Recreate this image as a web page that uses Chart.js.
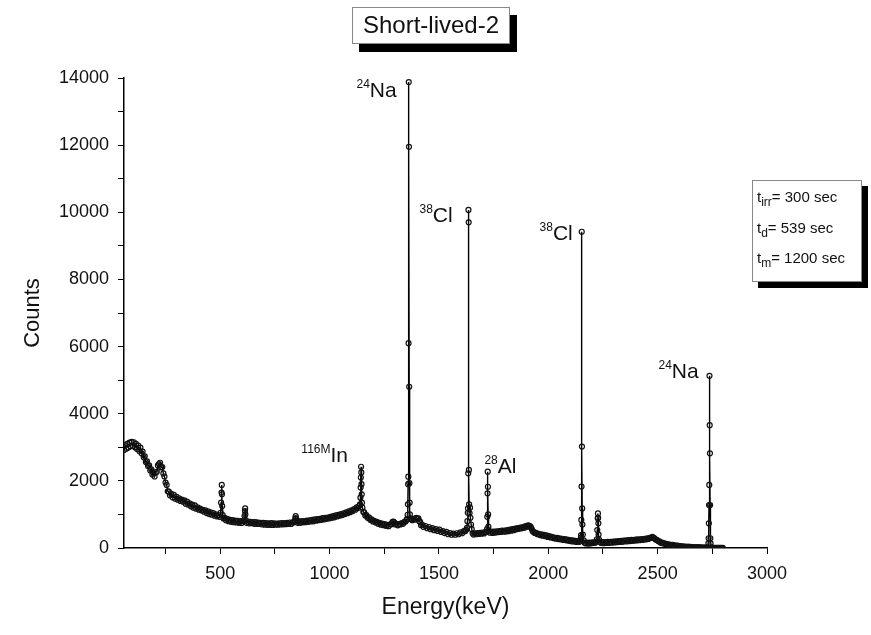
<!DOCTYPE html>
<html>
<head>
<meta charset="utf-8">
<script src="https://cdn.jsdelivr.net/npm/chart.js@4"></script>
<style>
  body { margin: 0; background: #fff; }
  #wrap { width: 871px; height: 635px; position: relative; }
</style>
</head>
<body>
<div id="wrap"><canvas id="spectrum"></canvas></div>
<script>
const chartTitle = 'Short-lived-2';

// gamma spectrum (keV, counts)
const energy = [
  60, 65, 70, 75, 80, 85, 90, 95, 100, 105, 110, 115, 120, 125, 130, 135, 140, 145, 150, 155,
  160, 165, 170, 175, 180, 185, 190, 195, 200, 205, 210, 215, 220, 225, 230, 235, 240, 245, 250, 255,
  260, 265, 270, 276, 282, 288, 294, 300, 306, 312, 318, 324, 330, 336, 342, 348, 354, 360, 366, 372,
  378, 384, 390, 396, 402, 408, 414, 420, 426, 432, 438, 444, 450, 456, 462, 468, 474, 480, 486, 492,
  498, 502, 504, 506, 507, 508, 509, 511, 515, 520, 526, 532, 538, 544, 550, 556, 562, 568, 574, 580,
  586, 592, 598, 604, 608, 611, 613, 614, 615, 617, 620, 626, 632, 638, 644, 650, 656, 662, 668, 674,
  680, 686, 692, 698, 704, 710, 716, 722, 728, 734, 740, 746, 752, 758, 764, 770, 776, 782, 788, 794,
  800, 806, 812, 818, 824, 830, 836, 840, 843, 845, 847, 850, 855, 860, 866, 872, 878, 884, 890, 896,
  902, 908, 914, 920, 926, 932, 938, 944, 950, 956, 962, 968, 974, 980, 986, 992, 998, 1004, 1010, 1016,
  1022, 1028, 1034, 1040, 1046, 1052, 1058, 1064, 1070, 1076, 1082, 1088, 1094, 1100, 1106, 1112, 1118, 1124, 1130, 1135,
  1139, 1141, 1142, 1143, 1144, 1145, 1146, 1147, 1148, 1150, 1154, 1158, 1163, 1168, 1174, 1180, 1186, 1192, 1198, 1204,
  1210, 1216, 1222, 1228, 1234, 1240, 1246, 1252, 1258, 1264, 1270, 1276, 1282, 1288, 1292, 1296, 1300, 1306, 1312, 1318,
  1324, 1330, 1336, 1342, 1348, 1352, 1355, 1357, 1358, 1359, 1360, 1361, 1362, 1363, 1364, 1365, 1366, 1367, 1369, 1373,
  1378, 1384, 1390, 1396, 1402, 1406, 1410, 1414, 1418, 1424, 1430, 1438, 1446, 1454, 1462, 1470, 1478, 1486, 1494, 1502,
  1510, 1518, 1526, 1534, 1542, 1550, 1558, 1566, 1574, 1582, 1590, 1598, 1606, 1614, 1620, 1625, 1628, 1630, 1632, 1633,
  1634, 1635, 1636, 1637, 1638, 1640, 1642, 1644, 1647, 1650, 1654, 1658, 1664, 1670, 1676, 1682, 1688, 1694, 1700, 1706,
  1712, 1717, 1720, 1721, 1722, 1723, 1724, 1725, 1726, 1728, 1733, 1740, 1746, 1752, 1758, 1764, 1770, 1776, 1782, 1788,
  1794, 1800, 1806, 1812, 1818, 1824, 1830, 1836, 1842, 1848, 1854, 1860, 1866, 1872, 1878, 1884, 1890, 1896, 1902, 1908,
  1912, 1916, 1920, 1924, 1928, 1932, 1938, 1944, 1950, 1956, 1962, 1968, 1974, 1980, 1986, 1992, 1998, 2004, 2010, 2016,
  2022, 2028, 2034, 2040, 2046, 2052, 2058, 2064, 2070, 2076, 2082, 2088, 2094, 2100, 2106, 2112, 2118, 2124, 2130, 2136,
  2142, 2146, 2149, 2150, 2151, 2152, 2153, 2154, 2155, 2156, 2158, 2162, 2166, 2172, 2178, 2184, 2190, 2196, 2202, 2208,
  2214, 2219, 2222, 2224, 2226, 2227, 2228, 2229, 2230, 2232, 2236, 2242, 2248, 2254, 2260, 2266, 2272, 2278, 2284, 2290,
  2296, 2302, 2308, 2314, 2320, 2326, 2332, 2338, 2344, 2350, 2356, 2362, 2368, 2374, 2380, 2386, 2392, 2398, 2404, 2410,
  2416, 2422, 2428, 2434, 2440, 2446, 2452, 2458, 2464, 2470, 2476, 2480, 2484, 2490, 2496, 2502, 2508, 2514, 2520, 2526,
  2532, 2538, 2544, 2550, 2556, 2562, 2568, 2574, 2580, 2586, 2592, 2598, 2604, 2610, 2616, 2622, 2628, 2634, 2640, 2646,
  2652, 2658, 2664, 2670, 2676, 2682, 2688, 2694, 2700, 2706, 2712, 2718, 2724, 2730, 2732, 2733, 2734, 2735, 2736, 2737,
  2738, 2739, 2740, 2741, 2742, 2744, 2750, 2756, 2762, 2768, 2774, 2780, 2786, 2792, 2798
];
const counts = [
  2920, 3060, 2960, 3100, 2990, 3140, 3030, 3160, 3040, 3150, 3000, 3100, 2950, 3050, 2890, 2990, 2820, 2870, 2700, 2730,
  2560, 2580, 2440, 2460, 2310, 2340, 2190, 2230, 2130, 2260, 2270, 2460, 2500, 2540, 2400, 2410, 2220, 2130, 1950, 1880,
  1690, 1680, 1570, 1610, 1510, 1580, 1470, 1520, 1440, 1480, 1400, 1440, 1380, 1420, 1320, 1380, 1290, 1330, 1240, 1290,
  1200, 1270, 1170, 1210, 1140, 1170, 1120, 1140, 1080, 1120, 1040, 1090, 1010, 1060, 990, 1040, 960, 1000, 940, 980,
  930, 1050, 1350, 1650, 1880, 1600, 1250, 980, 880, 900, 830, 870, 800, 840, 780, 830, 770, 815, 760, 810,
  750, 800, 745, 800, 800, 950, 1100, 1180, 1000, 820, 750, 790, 735, 780, 740, 770, 720, 770, 715, 755,
  720, 750, 700, 750, 695, 740, 690, 735, 690, 740, 685, 735, 695, 725, 695, 735, 700, 740, 705, 745,
  710, 750, 715, 760, 715, 765, 760, 800, 880, 950, 880, 800, 750, 795, 750, 800, 765, 805, 770, 815,
  780, 820, 790, 840, 795, 850, 815, 860, 830, 870, 840, 890, 850, 900, 870, 905, 880, 930, 900, 950,
  915, 970, 940, 985, 960, 1010, 980, 1035, 1010, 1060, 1035, 1090, 1065, 1120, 1100, 1160, 1140, 1210, 1190, 1250,
  1300, 1500, 1800, 2100, 2420, 2250, 1900, 1600, 1350, 1200, 1080, 1060, 970, 980, 900, 910, 840, 850, 790, 810,
  760, 780, 720, 750, 695, 725, 680, 710, 660, 690, 650, 700, 710, 780, 790, 760, 700, 720, 675, 715,
  700, 745, 720, 780, 790, 840, 870, 990, 1300, 1900, 2125, 6100, 13880, 11950, 4800, 1930, 1350, 1000, 880, 860,
  830, 870, 845, 900, 870, 880, 800, 780, 680, 690, 625, 655, 590, 625, 560, 590, 530, 565, 510, 545,
  480, 505, 445, 480, 410, 445, 395, 430, 395, 440, 410, 465, 440, 500, 500, 540, 600, 800, 1050, 1180,
  2225, 10070, 9700, 2325, 1300, 1040, 1200, 900, 700, 560, 440, 400, 440, 410, 445, 420, 455, 425, 460, 435,
  470, 480, 560, 930, 1630, 2275, 1825, 1000, 635, 500, 455, 485, 450, 490, 460, 495, 470, 505, 480, 515,
  485, 520, 490, 530, 500, 545, 515, 560, 530, 575, 555, 590, 570, 605, 585, 625, 600, 650, 630, 675,
  660, 650, 620, 570, 510, 480, 450, 455, 410, 425, 385, 405, 365, 390, 350, 375, 330, 355, 315, 335,
  295, 310, 275, 300, 265, 290, 255, 275, 240, 265, 230, 250, 215, 235, 200, 225, 190, 210, 180, 200,
  185, 220, 300, 385, 835, 1830, 9420, 3020, 1180, 700, 400, 230, 160, 135, 160, 130, 160, 140, 170, 150,
  160, 190, 260, 535, 885, 1030, 900, 735, 400, 250, 180, 150, 175, 145, 175, 150, 180, 155, 185, 160,
  190, 165, 200, 175, 205, 180, 215, 185, 220, 195, 225, 200, 235, 205, 240, 215, 245, 220, 255, 230,
  260, 235, 265, 245, 275, 255, 285, 270, 300, 300, 330, 305, 295, 255, 245, 205, 195, 160, 160, 135,
  135, 110, 115, 95, 105, 85, 95, 70, 80, 60, 70, 50, 60, 40, 50, 35, 45, 30, 40, 25,
  35, 20, 30, 15, 28, 12, 25, 10, 20, 8, 18, 6, 15, 20, 140, 290, 735, 1280, 1880, 5130,
  3660, 2820, 1280, 290, 140, 20, 10, 8, 6, 5, 5, 4, 4, 3, 3
];

const xMajor = [500, 1000, 1500, 2000, 2500, 3000];
const xMinor = [250, 750, 1250, 1750, 2250, 2750];
const yMajor = [0, 2000, 4000, 6000, 8000, 10000, 12000, 14000];
const yMinor = [1000, 3000, 5000, 7000, 9000, 11000, 13000];

// peak labels: isotope, mass number, where the label sits (keV, counts)
const peakIso = ['Na', 'Cl', 'Cl', 'Na', 'In', 'Al'];
const peakMass = ['24', '38', '38', '24', '116M', '28'];
const peakLabelE = [1123, 1411, 1960, 2504, 871, 1708];
const peakLabelC = [13440, 9715, 9180, 5066, 2563, 2235];

const infoSub = ['irr', 'd', 'm'];
const infoText = ['= 300 sec', '= 539 sec', '= 1200 sec'];

const FONT = '"Liberation Sans", Arial, sans-serif';

const points = energy.map((e, i) => ({ x: e, y: counts[i] }));

const overlay = {
  id: 'overlay',
  afterDraw(chart) {
    const ctx = chart.ctx;
    const xs = chart.scales.x;
    const ys = chart.scales.y;
    ctx.save();

    // title box with drop shadow
    ctx.fillStyle = '#000';
    ctx.fillRect(359, 15, 158, 37);
    ctx.fillStyle = '#fff';
    ctx.fillRect(352, 7, 158, 37);
    ctx.strokeStyle = '#888';
    ctx.lineWidth = 1;
    ctx.strokeRect(352.5, 7.5, 157, 36);
    ctx.fillStyle = '#111';
    ctx.font = '24px ' + FONT;
    ctx.textAlign = 'center';
    ctx.textBaseline = 'middle';
    ctx.fillText(chartTitle, 431, 26);

    // info box
    ctx.fillStyle = '#000';
    ctx.fillRect(758, 186, 110, 102);
    ctx.fillStyle = '#fff';
    ctx.fillRect(752, 180, 110, 102);
    ctx.strokeStyle = '#888';
    ctx.strokeRect(752.5, 180.5, 109, 101);
    ctx.fillStyle = '#111';
    ctx.textAlign = 'left';
    ctx.textBaseline = 'alphabetic';
    infoSub.forEach((sub, i) => {
      const by = 202 + i * 30.5;
      let x = 757;
      ctx.font = '15px ' + FONT;
      ctx.fillText('t', x, by);
      x += ctx.measureText('t').width;
      ctx.font = '12px ' + FONT;
      ctx.fillText(sub, x, by + 4);
      x += ctx.measureText(sub).width;
      ctx.font = '15px ' + FONT;
      ctx.fillText(infoText[i], x, by);
    });

    // peak labels
    peakIso.forEach((iso, i) => {
      let x = xs.getPixelForValue(peakLabelE[i]);
      const by = ys.getPixelForValue(peakLabelC[i]);
      ctx.font = '12px ' + FONT;
      ctx.fillText(peakMass[i], x, by - 9);
      x += ctx.measureText(peakMass[i]).width;
      ctx.font = '21px ' + FONT;
      ctx.fillText(iso, x, by);
    });

    ctx.restore();
  }
};

function setTicks(major, minor) {
  return scale => {
    scale.ticks = major.concat(minor).sort((a, b) => a - b).map(v => ({ value: v }));
  };
}

new Chart(document.getElementById('spectrum'), {
  type: 'line',
  data: {
    datasets: [{
      data: points,
      borderColor: '#000',
      borderWidth: 1.4,
      pointRadius: 2.5,
      pointBorderWidth: 1.2,
      pointBorderColor: '#111',
      pointBackgroundColor: 'rgba(255,255,255,0)',
      tension: 0
    }]
  },
  options: {
    responsive: true,
    maintainAspectRatio: false,
    animation: false,
    events: [],
    layout: { padding: { left: 0, right: 104, top: 78, bottom: 0 } },
    plugins: { legend: { display: false }, tooltip: { enabled: false } },
    scales: {
      x: {
        type: 'linear',
        min: 60,
        max: 3000,
        afterBuildTicks: setTicks(xMajor, xMinor),
        afterFit: s => { s.height = 87; },
        border: { color: '#000', width: 1.5 },
        grid: { drawOnChartArea: false, color: '#000', tickLength: 6 },
        ticks: {
          color: '#111',
          font: { family: FONT, size: 18 },
          padding: 9,
          maxRotation: 0,
          autoSkip: false,
          callback: v => xMajor.includes(v) ? String(v) : ''
        },
        title: {
          display: true,
          text: 'Energy(keV)',
          color: '#111',
          font: { family: FONT, size: 23 },
          padding: { top: 0, bottom: 14 }
        }
      },
      y: {
        min: 0,
        max: 14000,
        afterBuildTicks: setTicks(yMajor, yMinor),
        afterFit: s => { s.width = 124; },
        border: { color: '#000', width: 1.5 },
        grid: { drawOnChartArea: false, color: '#000', tickLength: 6 },
        ticks: {
          color: '#111',
          font: { family: FONT, size: 18 },
          padding: 9,
          autoSkip: false,
          callback: v => yMajor.includes(v) ? String(v) : ''
        },
        title: {
          display: true,
          text: 'Counts',
          color: '#111',
          font: { family: FONT, size: 22 },
          padding: { top: 20, bottom: 0 }
        }
      }
    }
  },
  plugins: [overlay]
});
</script>
</body>
</html>
